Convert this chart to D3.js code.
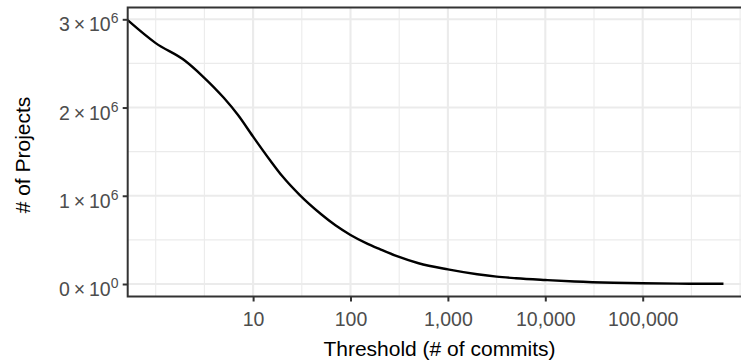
<!DOCTYPE html>
<html>
<head>
<meta charset="utf-8">
<script src="https://cdn.jsdelivr.net/npm/d3@7"></script>
<style>
  body { margin: 0; background: #fff; }
  text { font-family: "Liberation Sans", Arial, sans-serif; }
</style>
</head>
<body>
<svg width="741" height="363"></svg>
<script>
// threshold (# of commits) and number of projects still above it
var thresholds = [0, 1, 2, 3, 5, 7, 10, 15, 20, 30, 50, 70, 100, 150, 200, 300, 500,
                  1000, 2000, 3162, 5000, 10000, 20000, 50000, 100000, 300000, 675000];
var projects = [2.99e6, 2.73e6, 2.53e6, 2.36e6, 2.11e6, 1.915e6, 1.67e6, 1.40e6, 1.22e6, 1.01e6,
                0.79e6, 0.665e6, 0.556e6, 0.455e6, 0.395e6, 0.315e6, 0.235e6,
                0.165e6, 0.11e6, 0.083e6, 0.065e6, 0.045e6, 0.028e6, 0.014e6, 0.008e6, 0.003e6, 0.002e6];

var xTicks = [10, 100, 1000, 10000, 100000];
var yTicks = [0, 1e6, 2e6, 3e6];
var yExp = ["0", "1", "2", "3"];

var svg = d3.select("svg");

// panel box (right side runs past the picture edge)
var pLeft = 127.7, pTop = 7.5, pRight = 752, pBottom = 296.5;

var x = d3.scaleLog().domain([1, 1e5]).range([155.7, 642.7]);
var y = d3.scaleLinear().domain([0, 3e6]).range([284, 19.3]);

var g = svg.append("g");

g.append("rect")
    .attr("x", pLeft).attr("y", pTop)
    .attr("width", pRight - pLeft).attr("height", pBottom - pTop)
    .attr("fill", "#fff");

// minor grid
var xMinor = [1, Math.sqrt(10), Math.sqrt(1e3), Math.sqrt(1e5), Math.sqrt(1e7), Math.sqrt(1e9), Math.sqrt(1e11), 1e6];
var yMinor = [0.5e6, 1.5e6, 2.5e6];

g.selectAll(".xminor").data(xMinor).enter().append("line")
    .attr("x1", d => x(d)).attr("x2", d => x(d))
    .attr("y1", pTop).attr("y2", pBottom)
    .attr("stroke", "#ebebeb").attr("stroke-width", 1.1);
g.selectAll(".yminor").data(yMinor).enter().append("line")
    .attr("x1", pLeft).attr("x2", pRight)
    .attr("y1", d => y(d)).attr("y2", d => y(d))
    .attr("stroke", "#ebebeb").attr("stroke-width", 1.1);

// major grid
g.selectAll(".xmajor").data(xTicks).enter().append("line")
    .attr("x1", d => x(d)).attr("x2", d => x(d))
    .attr("y1", pTop).attr("y2", pBottom)
    .attr("stroke", "#ebebeb").attr("stroke-width", 2.1);
g.selectAll(".ymajor").data(yTicks).enter().append("line")
    .attr("x1", pLeft).attr("x2", pRight)
    .attr("y1", d => y(d)).attr("y2", d => y(d))
    .attr("stroke", "#ebebeb").attr("stroke-width", 2.1);

// the curve; threshold 0 sits on the left edge like ggplot's -Inf
var line = d3.line()
    .x((d, i) => thresholds[i] > 0 ? x(thresholds[i]) : pLeft)
    .y(d => y(d))
    .curve(d3.curveMonotoneX);

g.append("path")
    .datum(projects)
    .attr("d", line)
    .attr("fill", "none")
    .attr("stroke", "#000")
    .attr("stroke-width", 2.4);

g.append("rect")
    .attr("x", pLeft).attr("y", pTop)
    .attr("width", pRight - pLeft).attr("height", pBottom - pTop)
    .attr("fill", "none")
    .attr("stroke", "#333").attr("stroke-width", 2);

// x axis
var xAxis = d3.axisBottom(x)
    .tickValues(xTicks)
    .tickSize(5)
    .tickPadding(11)
    .tickFormat(d3.format(","));

var gx = svg.append("g")
    .attr("transform", "translate(0," + pBottom + ")")
    .call(xAxis);
gx.select(".domain").remove();
gx.selectAll(".tick line").attr("stroke", "#333").attr("stroke-width", 2);
gx.selectAll(".tick text")
    .attr("fill", "#4d4d4d")
    .style("font-size", "19.5px");

// y axis, labels like 3×10^6
var yAxis = d3.axisLeft(y)
    .tickValues(yTicks)
    .tickSize(5)
    .tickFormat("");

var gy = svg.append("g")
    .attr("transform", "translate(" + pLeft + ",0)")
    .call(yAxis);
gy.select(".domain").remove();
gy.selectAll(".tick line").attr("stroke", "#333").attr("stroke-width", 2);

var labs = svg.append("g");
yTicks.forEach(function(v, i) {
    var t = labs.append("text")
        .attr("x", 118.5)
        .attr("y", y(v) + 12)
        .attr("text-anchor", "end")
        .attr("fill", "#4d4d4d")
        .style("font-size", "19.5px");
    t.append("tspan").text(yExp[i] + "\u2009\u00d7\u200910");
    t.append("tspan")
        .attr("dy", -8)
        .style("font-size", "14px")
        .text(i === 0 ? "0" : "6");
});

// titles
svg.append("text")
    .attr("x", 439.5).attr("y", 356)
    .attr("text-anchor", "middle")
    .attr("fill", "#000")
    .style("font-size", "21px")
    .text("Threshold (# of commits)");

svg.append("text")
    .attr("transform", "translate(30," + ((pTop + pBottom) / 2 + 3) + ") rotate(-90)")
    .attr("text-anchor", "middle")
    .attr("fill", "#000")
    .style("font-size", "21px")
    .text("# of Projects");
</script>
</body>
</html>
